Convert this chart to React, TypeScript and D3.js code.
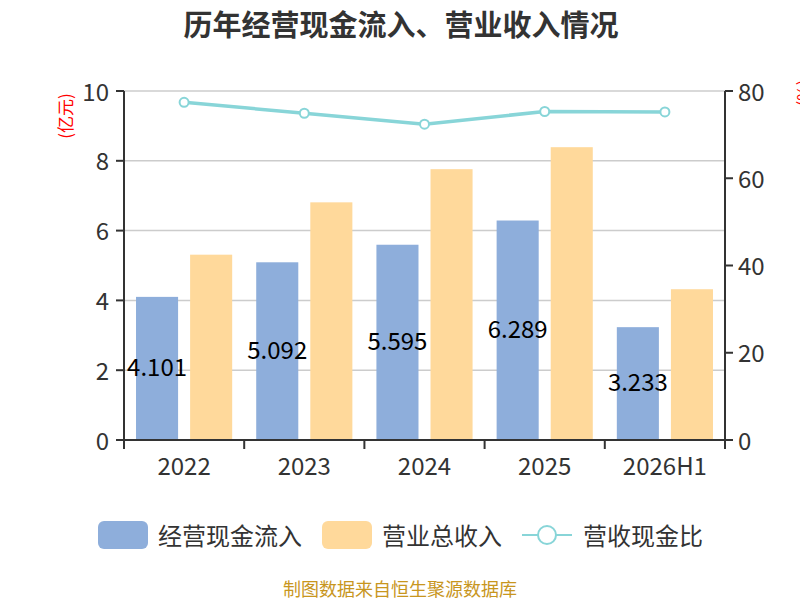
import React from "react";
import * as d3 from "d3";

const categories = ["2022", "2023", "2024", "2025", "2026H1"];
const cashInflow = [4.101, 5.092, 5.595, 6.289, 3.233];
const revenue = [5.31, 6.81, 7.76, 8.39, 4.32];
const ratio = [77.4, 74.9, 72.4, 75.3, 75.2];
const leftTicks = [0, 2, 4, 6, 8, 10];
const rightTicks = [0, 20, 40, 60, 80];
const legendItems = ["经营现金流入", "营业总收入", "营收现金比"];

const W = 800;
const H = 600;
const left = 124;
const right = 725;
const top = 91;
const bottom = 440;
const FONT = "'Noto Sans CJK SC', 'Noto Sans', sans-serif";
const BLUE = "#8eaedb";
const ORANGE = "#ffd99b";
const TEAL = "#88d5d8";
const AXIS = "#333";

export default function App() {
  const x = d3.scaleBand<string>().domain(categories).range([left, right]).padding(0);
  const yL = d3.scaleLinear().domain([0, 10]).range([bottom, top]);
  const yR = d3.scaleLinear().domain([0, 80]).range([bottom, top]);
  const bw = x.bandwidth();
  const barW = bw * 0.35;
  const gap = bw * 0.1;
  const line = d3
    .line<number>()
    .x((_, i) => (x(categories[i]) as number) + bw / 2)
    .y((d) => yR(d));

  return (
    <svg
      width={W}
      height={H}
      style={{ position: "absolute", left: 0, top: 0, background: "#fff" }}
      fontFamily={FONT}
    >
      <text x={401} y={23} textAnchor="middle" dominantBaseline="central" fontSize={29} fontWeight="bold" fill="#333">
        历年经营现金流入、营业收入情况
      </text>

      {/* gridlines */}
      {leftTicks.slice(1).map((t) => (
        <line key={t} x1={left} x2={right} y1={yL(t)} y2={yL(t)} stroke="#cccccc" strokeWidth={1.5} />
      ))}

      {/* bars */}
      {categories.map((c, i) => {
        const x0 = x(c) as number;
        return (
          <g key={c}>
            <rect x={x0 + gap} y={yL(cashInflow[i])} width={barW} height={bottom - yL(cashInflow[i])} fill={BLUE} />
            <rect
              x={x0 + gap * 2 + barW}
              y={yL(revenue[i])}
              width={barW}
              height={bottom - yL(revenue[i])}
              fill={ORANGE}
            />
          </g>
        );
      })}

      {/* bar labels */}
      {categories.map((c, i) => {
        const x0 = x(c) as number;
        const cy = (yL(cashInflow[i]) + bottom) / 2 - 3;
        return (
          <text key={c} x={x0 + gap + barW / 2} y={cy} textAnchor="middle" dominantBaseline="central" fontSize={24} fill="#000">
            {cashInflow[i].toFixed(3)}
          </text>
        );
      })}

      {/* line */}
      <path d={line(ratio) || ""} fill="none" stroke={TEAL} strokeWidth={3.5} />
      {ratio.map((r, i) => (
        <circle key={i} cx={(x(categories[i]) as number) + bw / 2} cy={yR(r)} r={4.5} fill="#fff" stroke={TEAL} strokeWidth={2} />
      ))}

      {/* left axis */}
      <line x1={left} x2={left} y1={top} y2={bottom} stroke={AXIS} strokeWidth={2} />
      {leftTicks.map((t) => (
        <g key={t}>
          <line x1={left - 8} x2={left} y1={yL(t)} y2={yL(t)} stroke={AXIS} strokeWidth={2} />
          <text x={left - 15} y={yL(t) - 1} textAnchor="end" dominantBaseline="central" fontSize={24} fill="#333">
            {t}
          </text>
        </g>
      ))}
      <text
        transform={`translate(64,116) rotate(-90)`}
        textAnchor="middle"
        dominantBaseline="central"
        fontSize={17}
        fill="#ff0000"
      >
        (亿元)
      </text>

      {/* right axis */}
      <line x1={right} x2={right} y1={top} y2={bottom} stroke={AXIS} strokeWidth={2} />
      {rightTicks.map((t) => (
        <g key={t}>
          <line x1={right} x2={right + 8} y1={yR(t)} y2={yR(t)} stroke={AXIS} strokeWidth={2} />
          <text x={right + 13} y={yR(t) - 1} textAnchor="start" dominantBaseline="central" fontSize={24} fill="#333">
            {t}
          </text>
        </g>
      ))}
      <text
        transform={`translate(802,93) rotate(-90)`}
        textAnchor="middle"
        dominantBaseline="central"
        fontSize={17}
        fill="#ff0000"
      >
        (%)
      </text>

      {/* x axis */}
      <line x1={left} x2={right} y1={bottom} y2={bottom} stroke={AXIS} strokeWidth={2} />
      {categories.map((c) => (
        <line key={c} x1={x(c) as number} x2={x(c) as number} y1={bottom} y2={bottom + 9} stroke={AXIS} strokeWidth={2} />
      ))}
      <line x1={right} x2={right} y1={bottom} y2={bottom + 9} stroke={AXIS} strokeWidth={2} />
      {categories.map((c) => (
        <text key={c} x={(x(c) as number) + bw / 2} y={464} textAnchor="middle" dominantBaseline="central" fontSize={24} fill="#333">
          {c}
        </text>
      ))}

      {/* legend */}
      <rect x={98} y={521} width={50} height={28} rx={6} fill={BLUE} />
      <text x={158} y={534} dominantBaseline="central" fontSize={24} fill="#333">
        {legendItems[0]}
      </text>
      <rect x={322} y={521} width={50} height={28} rx={6} fill={ORANGE} />
      <text x={382} y={534} dominantBaseline="central" fontSize={24} fill="#333">
        {legendItems[1]}
      </text>
      <line x1={522} x2={572} y1={535} y2={535} stroke={TEAL} strokeWidth={2} />
      <circle cx={547} cy={535} r={9} fill="#fff" stroke={TEAL} strokeWidth={2} />
      <text x={583} y={534} dominantBaseline="central" fontSize={24} fill="#333">
        {legendItems[2]}
      </text>

      <text x={400} y={588} textAnchor="middle" dominantBaseline="central" fontSize={18} fill="#c8961e">
        制图数据来自恒生聚源数据库
      </text>
    </svg>
  );
}
